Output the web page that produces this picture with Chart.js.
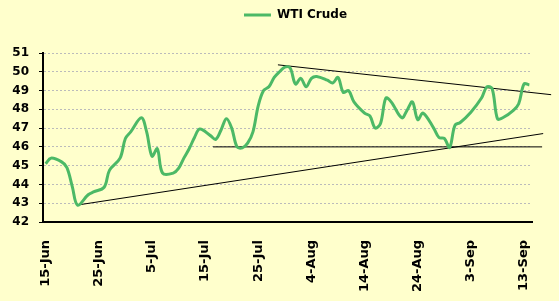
<!DOCTYPE html>
<html>
<head>
<meta charset="utf-8">
<title>WTI Crude</title>
<script src="https://cdn.jsdelivr.net/npm/chart.js@4.4.1/dist/chart.umd.min.js"></script>
<style>
  html, body { margin: 0; padding: 0; background: #ffffcc; }
  #wrap { width: 559px; height: 301px; }
</style>
</head>
<body>
<div id="wrap"><canvas id="wti"></canvas></div>
<script>
// day offsets counted from 15-Jun
const days = [0, 1, 3, 4, 5, 6, 8, 9, 11, 12, 14, 15, 16, 18, 19, 20, 21, 22, 24, 25,
  26, 27, 28, 29, 31, 32, 33, 34, 35, 36, 37, 38, 39, 40, 41, 42, 43, 44, 45, 46,
  47, 48, 49, 50, 51, 53, 54, 55, 56, 57, 58, 60, 61, 62, 63, 64, 65, 67, 68, 69,
  70, 71, 73, 74, 75, 76, 77, 78, 80, 82, 83, 84, 85, 86, 88, 89, 90, 91];
const prices = [45.1, 45.4, 45.2, 44.9, 43.9, 42.9, 43.45, 43.6, 43.85, 44.75, 45.4, 46.45, 46.8, 47.55, 46.8, 45.5, 45.9, 44.6, 44.6, 44.85,
  45.4, 45.9, 46.5, 46.95, 46.6, 46.4, 46.9, 47.5, 47.0, 46.0, 45.95, 46.2, 46.8, 48.2, 49.0, 49.2, 49.7, 50.0, 50.25, 50.2,
  49.35, 49.65, 49.2, 49.65, 49.75, 49.55, 49.4, 49.7, 48.9, 49.0, 48.4, 47.8, 47.65, 47.0, 47.25, 48.6, 48.4, 47.55, 47.95, 48.4,
  47.45, 47.8, 47.0, 46.5, 46.45, 45.97, 47.15, 47.3, 47.85, 48.6, 49.2, 49.1, 47.5, 47.55, 47.95, 48.3, 49.35, 49.3];

const tickDays = [0, 10, 20, 30, 40, 50, 60, 70, 80, 90];
const tickLabels = ['15-Jun', '25-Jun', '5-Jul', '15-Jul', '25-Jul', '4-Aug', '14-Aug', '24-Aug', '3-Sep', '13-Sep'];

// hand drawn trend lines, [day, price] at each end
const resistance = [[43.7, 50.37], [95.1, 48.78]];
const support = [[5.9, 42.9], [93.6, 46.71]];
const floor46 = [[31.5, 46], [93.4, 46]];

const green = '#4cb966';
const boldFont = size => ({ family: 'DejaVu Sans', weight: 'bold', size: size });
const toPoints = arr => arr.map(p => ({ x: p[0], y: p[1] }));

function trend(pts) {
    return {
        label: 'trend',
        data: toPoints(pts),
        borderColor: '#000',
        borderWidth: 1,
        pointRadius: 0,
        tension: 0,
        clip: false
    };
}

// legend sits a bit right of the canvas centre in the original
const legendNudge = {
    id: 'legendNudge',
    afterLayout(chart) {
        chart.legend.left += 16;
        chart.legend.right += 16;
    }
};

new Chart(document.getElementById('wti'), {
    type: 'line',
    plugins: [legendNudge],
    data: {
        datasets: [
            {
                label: 'WTI Crude',
                data: days.map((d, i) => ({ x: d, y: prices[i] })),
                borderColor: green,
                backgroundColor: green,
                borderWidth: 3,
                pointRadius: 0,
                tension: 0.35
            },
            trend(resistance),
            trend(support),
            trend(floor46)
        ]
    },
    options: {
        responsive: true,
        maintainAspectRatio: false,
        animation: false,
        layout: { padding: 0 },
        plugins: {
            tooltip: { enabled: false },
            legend: {
                position: 'top',
                labels: {
                    filter: item => item.datasetIndex === 0,
                    usePointStyle: true,
                    pointStyle: 'line',
                    pointStyleWidth: 27,
                    boxHeight: 12,
                    padding: 9,
                    color: '#000',
                    font: boldFont(12)
                }
            }
        },
        scales: {
            x: {
                type: 'linear',
                position: 'bottom',
                min: -0.5,
                max: 91.5,
                afterBuildTicks: s => { s.ticks = tickDays.map(v => ({ value: v })); },
                afterFit: s => { s.height = 79; },
                grid: { display: false },
                border: { color: '#000', width: 2 },
                ticks: {
                    autoSkip: false,
                    minRotation: 90,
                    maxRotation: 90,
                    padding: 10,
                    color: '#000',
                    font: boldFont(13),
                    callback: v => tickLabels[tickDays.indexOf(v)]
                }
            },
            gap: {
                type: 'linear',
                position: 'top',
                afterFit: s => { s.height = 22; },
                grid: { display: false },
                border: { display: false },
                ticks: { display: false }
            },
            y: {
                min: 42,
                max: 51,
                afterFit: s => { s.width = 43; },
                grid: {
                    color: '#bbb',
                    tickLength: 4,
                    tickColor: '#000',
                    tickBorderDash: []
                },
                border: { color: '#000', width: 2, dash: [2, 2] },
                ticks: {
                    stepSize: 1,
                    padding: 10,
                    color: '#000',
                    font: boldFont(12)
                }
            },
            right: {
                type: 'linear',
                position: 'right',
                afterFit: s => { s.width = 27; },
                grid: { display: false },
                border: { display: false },
                ticks: { display: false }
            }
        }
    }
});
</script>
</body>
</html>
